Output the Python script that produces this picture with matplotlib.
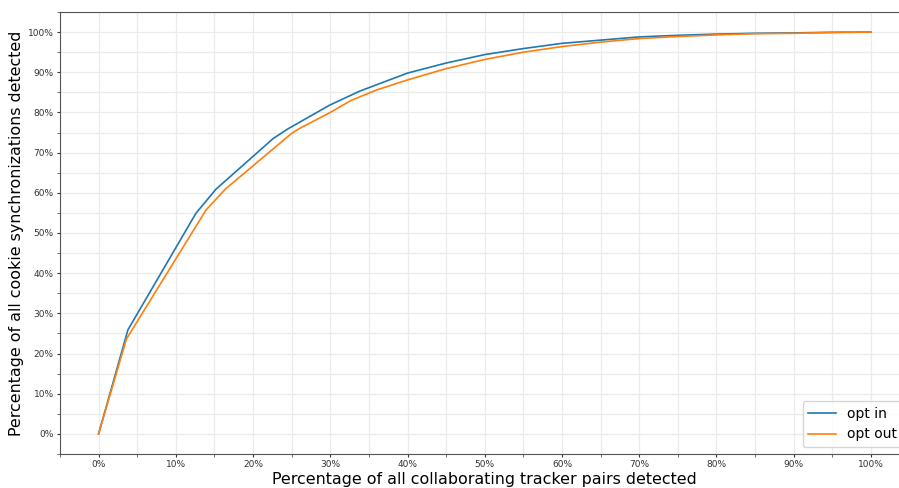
import matplotlib
matplotlib.use("Agg")
import matplotlib.pyplot as plt
from matplotlib.ticker import MultipleLocator, PercentFormatter

# curve points (fractions)
x_in = [0, 0.038, 0.126, 0.152, 0.226, 0.245, 0.299, 0.338, 0.40, 0.45, 0.50, 0.55, 0.60,
        0.65, 0.70, 0.75, 0.80, 0.85, 0.90, 0.95, 1.0]
y_in = [0, 0.259, 0.549, 0.609, 0.735, 0.759, 0.818, 0.853, 0.898, 0.923, 0.944, 0.959, 0.972,
        0.980, 0.988, 0.992, 0.995, 0.997, 0.998, 0.9995, 1.0]

x_out = [0, 0.036, 0.139, 0.164, 0.250, 0.260, 0.299, 0.327, 0.36, 0.40, 0.45, 0.50, 0.55, 0.60,
         0.65, 0.70, 0.75, 0.80, 0.85, 0.90, 0.95, 1.0]
y_out = [0, 0.236, 0.557, 0.609, 0.748, 0.760, 0.799, 0.830, 0.856, 0.881, 0.909, 0.932, 0.950, 0.964,
         0.975, 0.984, 0.989, 0.993, 0.996, 0.997, 0.999, 1.0]

fig = plt.figure(figsize=(8.99, 4.88), dpi=100)
ax = fig.add_axes([0.0667, 0.0697, 0.945, 0.9057])

ax.plot(x_in, y_in, color="#1f77b4", lw=1.2, label="opt in")
ax.plot(x_out, y_out, color="#ff7f0e", lw=1.2, label="opt out")

ax.set_xlim(-0.05, 1.05)
ax.set_ylim(-0.05, 1.05)
for a in (ax.xaxis, ax.yaxis):
    a.set_major_locator(MultipleLocator(0.1))
    a.set_minor_locator(MultipleLocator(0.05))
    a.set_major_formatter(PercentFormatter(1.0, decimals=0))
ax.grid(True, which="both", color="#ebebeb", lw=0.9)
ax.set_axisbelow(True)
ax.tick_params(which="major", labelsize=6.5, colors="#333333", length=2.5, pad=2)
ax.tick_params(which="minor", colors="#555555", length=2)
for s in ax.spines.values():
    s.set_color("#555555")

ax.set_xlabel("Percentage of all collaborating tracker pairs detected", fontsize=11.4, labelpad=2)
ax.set_ylabel("Percentage of all cookie synchronizations detected", fontsize=11.4, labelpad=2.5)
ax.legend(loc="lower right", fontsize=10, bbox_to_anchor=(1.0, 0.0))

fig.savefig("out.png", dpi=100)
